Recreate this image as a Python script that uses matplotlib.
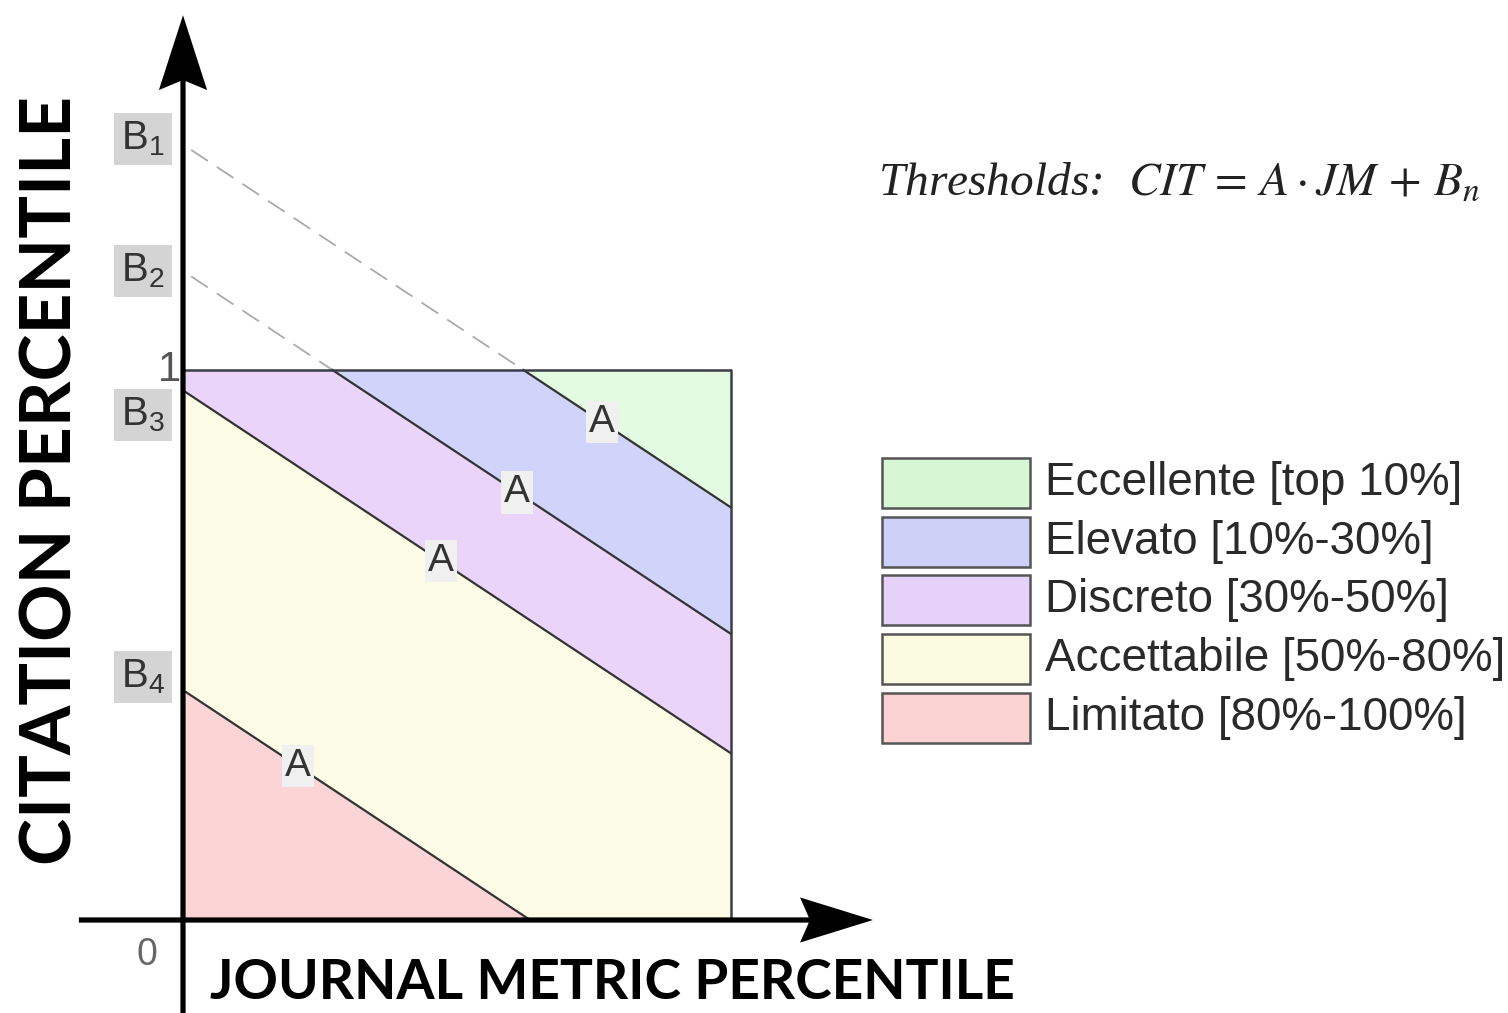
import numpy as np
import matplotlib.pyplot as plt
from matplotlib.patches import Rectangle

# thresholds: CIT = A * JM + B_n
A = -0.66
B_vals = [1.41, 1.18, 0.963, 0.418]
B_names = [r'$\mathregular{B_1}$', r'$\mathregular{B_2}$', r'$\mathregular{B_3}$', r'$\mathregular{B_4}$']

classes = ['Eccellente [top 10%]', 'Elevato [10%-30%]', 'Discreto [30%-50%]',
           'Accettabile [50%-80%]', 'Limitato [80%-100%]']
colors = ['#e3fbe0', '#d0d3fa', '#ead4fa', '#fcfce6', '#fbd5d6']
legend_colors = ['#d6f6d4', '#cdd1f7', '#e6d2f8', '#fbfbe2', '#fad2d2']

# where the "A" tags sit on each line (x in JM units)
A_tag_x = [0.765, 0.61, 0.47, 0.21]
# where the B tags sit on the CIT axis
B_tag_y = [1.42, 1.18, 0.918, 0.442]

W, H = 1508, 1013
fig = plt.figure(figsize=(W / 100, H / 100), dpi=100)
ax = fig.add_axes([0, 0, 1, 1])
# origin at pixel (183, 920), unit square 548 x 550 px
ax.set_xlim(-183 / 548, (W - 183) / 548)
ax.set_ylim(-(H - 920) / 550, 920 / 550)
ax.axis('off')


def fx(px):
    return px / W


def fy(py):
    return 1 - py / H


# bands
x = np.linspace(0, 1, 500)
tops = [np.inf] + B_vals
bots = B_vals + [-np.inf]
for top, bot, col in zip(tops, bots, colors):
    up = np.clip(A * x + top, 0, 1)
    lo = np.clip(A * x + bot, 0, 1)
    ax.fill_between(x, lo, up, where=up > lo, color=col, lw=0, zorder=1)

# threshold lines
for b in B_vals:
    xs = max(0.0, (b - 1) / -A)
    xe = min(1.0, b / -A)
    ax.plot([xs, xe], [A * xs + b, A * xe + b], color='#333333', lw=1.6, zorder=3)
    if b > 1:
        ax.plot([0.015, xs], [A * 0.015 + b, 1], color='#aaaaaa', lw=1.3,
                dashes=(11, 6), zorder=2)

# unit square
ax.plot([0, 1, 1, 0], [0, 0, 1, 1], color='#3c3c46', lw=1.8, zorder=3)

# A tags
for b, xt in zip(B_vals, A_tag_x):
    ax.text(xt, A * xt + b, 'A', ha='center', va='center', fontsize=28,
            family='Liberation Sans', color='#333333', zorder=5,
            bbox=dict(boxstyle='square,pad=0.08', fc='#f0f0f0', ec='none'))

# B tags
for name, yt in zip(B_names, B_tag_y):
    ax.text(-0.073, yt, name, ha='center', va='center', fontsize=29,
            family='Liberation Sans', math_fontfamily='dejavusans',
            color='#333333', zorder=5,
            bbox=dict(boxstyle='square,pad=0.17', fc='#d4d4d4', ec='none'))

ax.text(-0.004, 1.0, '1', ha='right', va='center', fontsize=30,
        family='Liberation Sans', color='#555555', zorder=6)
ax.text(-0.065, -0.064, '0', ha='center', va='center', fontsize=27,
        family='Liberation Sans', color='#666666', zorder=6)

# axes arrows
ax.arrow(0, -0.17, 0, 1.815, width=0.0095, head_width=0.088, head_length=0.136,
         length_includes_head=True, overhang=0.12, color='black', lw=0, zorder=4)
ax.arrow(-0.19, 0, 1.449, 0, width=0.0095, head_width=0.082, head_length=0.133,
         length_includes_head=True, overhang=0.12, color='black', lw=0, zorder=4)

renderer = fig.canvas.get_renderer()


def fit(t, target, vertical=False):
    bb = t.get_window_extent(renderer)
    w = bb.height if vertical else bb.width
    t.set_fontsize(t.get_fontsize() * target / w)


ylab = fig.text(fx(51), fy(480), 'CITATION PERCENTILE', rotation=90,
                ha='center', va='center', fontsize=60, fontweight='bold',
                family=['Lato', 'DejaVu Sans'], color='black')
fit(ylab, 770, vertical=True)
xlab = fig.text(fx(210), fy(983), 'JOURNAL METRIC PERCENTILE', ha='left',
                va='center', fontsize=45, fontweight='bold',
                family=['Lato', 'DejaVu Sans'], color='black')
fit(xlab, 805)

formula = fig.text(fx(878), fy(183),
                   r'Thresholds:  $CIT\,=\,A\cdot JM\,+\,B_n$',
                   ha='left', va='center', fontsize=36, family='Liberation Serif',
                   style='italic', math_fontfamily='stix', color='#222222')
fit(formula, 602)

# legend
for i, (lab, col) in enumerate(zip(classes, legend_colors)):
    top = 458 + i * 58.7
    fig.add_artist(Rectangle((fx(882), fy(top + 50)), 148 / W, 50 / H,
                             transform=fig.transFigure, fc=col, ec='#555555', lw=1.8))
    t = fig.text(fx(1045), fy(top + 25), lab, ha='left', va='center', fontsize=32,
                 family='Liberation Sans', color='#2a2a2a')
    if i == 0:
        fit(t, 417)
        leg_fs = t.get_fontsize()
    else:
        t.set_fontsize(leg_fs)

fig.savefig('out.png', dpi=100)
